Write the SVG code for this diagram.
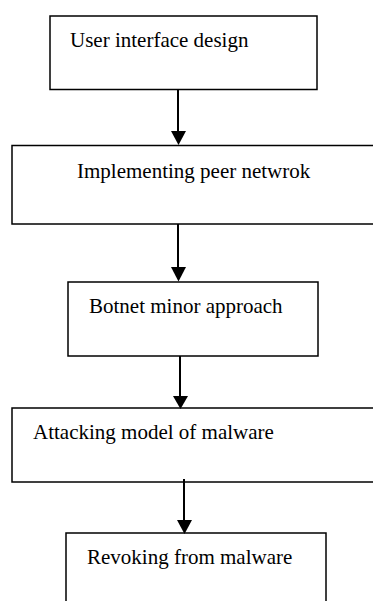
<svg xmlns="http://www.w3.org/2000/svg" width="373" height="601" viewBox="0 0 373 601">
<defs>
<style>
.box{fill:#fff;stroke:#000;stroke-width:1.5}
.lbl{font-family:"Liberation Serif","Times New Roman",serif;font-size:21px;fill:#000}
.conn{stroke:#000;stroke-width:2;fill:none}
.head{fill:#000;stroke:none}
</style>
</defs>
<rect width="373" height="601" fill="#fff"/>
<g id="n1"><rect class="box" x="50" y="16" width="267" height="73.5"/><text class="lbl" x="70" y="47">User interface design</text></g>
<g id="n2"><rect class="box" x="12" y="145.5" width="380" height="78.5"/><text class="lbl" x="77" y="177.5">Implementing peer netwrok</text></g>
<g id="n3"><rect class="box" x="68" y="282" width="250" height="74"/><text class="lbl" x="89" y="313">Botnet minor approach</text></g>
<g id="n4"><rect class="box" x="12" y="408" width="380" height="74"/><text class="lbl" x="33" y="438.5">Attacking model of malware</text></g>
<g id="n5"><rect class="box" x="66" y="533" width="260" height="90"/><text class="lbl" x="87" y="563.5">Revoking from malware</text></g>
<g id="connectors">
<line class="conn" x1="178" y1="89.5" x2="178" y2="132"/><polygon class="head" points="171,131 186,131 178.5,145"/>
<line class="conn" x1="178" y1="224" x2="178" y2="268"/><polygon class="head" points="171,267 186,267 178.5,281.5"/>
<line class="conn" x1="180" y1="356" x2="180" y2="397"/><polygon class="head" points="173,396 188,396 180.5,409"/>
<line class="conn" x1="184" y1="479" x2="184" y2="521"/><polygon class="head" points="177,520 192,520 184.5,534"/>
</g>
</svg>
